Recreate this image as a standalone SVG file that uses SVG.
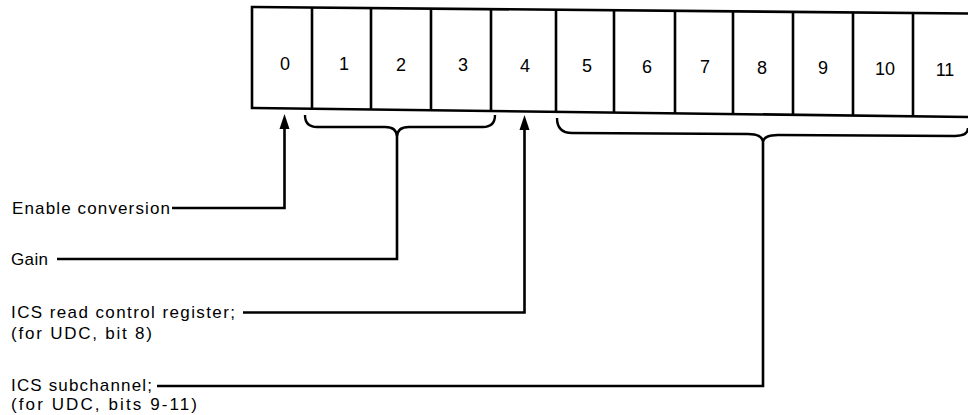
<svg xmlns="http://www.w3.org/2000/svg" width="968" height="415" viewBox="0 0 968 415">
<style>
.ln{fill:none;stroke:#000;stroke-width:2.6;stroke-linejoin:miter}
.br{fill:none;stroke:#000;stroke-width:2.4}
.dg{font-family:"Liberation Sans",Arial,sans-serif;font-size:18px;fill:#000;text-anchor:middle}
.lb{font-family:"Liberation Sans",Arial,sans-serif;font-size:17px;fill:#000}
</style>
<defs>
<marker id="ah" markerUnits="userSpaceOnUse" markerWidth="16" markerHeight="12" refX="0" refY="5" orient="auto" overflow="visible">
<path d="M0,0 L15,5 L0,10 z" fill="#000"/>
</marker>
</defs>
<rect width="968" height="415" fill="#fff"/>
<g id="register">
<path class="ln" d="M968,13.5 L252,7 L252,108 L968,117"/>
<path class="ln" d="M312,7.5V108.8 M371,8.1V109.5 M431,8.6V110.3 M491,9.2V111 M556,9.8V111.8 M614,10.3V112.6 M675,10.8V113.3 M733,11.4V114.1 M793,11.9V114.8 M853,12.5V115.6 M913,13V116.3"/>
</g>
<g id="bits">
<text class="dg" x="285" y="69.5">0</text>
<text class="dg" x="344" y="70">1</text>
<text class="dg" x="401" y="70.5">2</text>
<text class="dg" x="463" y="71">3</text>
<text class="dg" x="525" y="71.5">4</text>
<text class="dg" x="587" y="72">5</text>
<text class="dg" x="647" y="72.5">6</text>
<text class="dg" x="705" y="73">7</text>
<text class="dg" x="762" y="73.5">8</text>
<text class="dg" x="823" y="74">9</text>
<text class="dg" x="885" y="75">10</text>
<text class="dg" x="945" y="75.5">11</text>
</g>
<g id="braces">
<path class="br" d="M305,115 Q305,127 317,127 L385,127 Q397,127 397,137 Q397,127 409,127 L483,127 Q495,127 495,115"/>
<path class="br" d="M557,118 Q557,133 572,133 L748,134 Q763,134 763,143 Q763,135 778,135 L955,136 Q968,136 968,128"/>
</g>
<g id="labels">
<text id="enable" class="lb" x="12" y="213.5" textLength="158" lengthAdjust="spacing">Enable conversion</text>
<text id="gain" class="lb" x="11" y="264.5" textLength="37" lengthAdjust="spacing">Gain</text>
<g id="icsread">
<text class="lb" x="11" y="317.5" textLength="224" lengthAdjust="spacing">ICS read control register;</text>
<text class="lb" x="11" y="339" textLength="141" lengthAdjust="spacing">(for UDC, bit 8)</text>
</g>
<g id="icssub">
<text class="lb" x="11" y="391" textLength="141" lengthAdjust="spacing">ICS subchannel;</text>
<text class="lb" x="11" y="410" textLength="186" lengthAdjust="spacing">(for UDC, bits 9-11)</text>
</g>
</g>
<g id="connectors">
<path class="ln" d="M172,208 H284.5 V129" marker-end="url(#ah)"/>
<path class="ln" d="M57,259 H397 V137"/>
<path class="ln" d="M243,312.5 H524.5 V130" marker-end="url(#ah)"/>
<path class="ln" d="M157,386 H763 V143"/>
</g>
</svg>
